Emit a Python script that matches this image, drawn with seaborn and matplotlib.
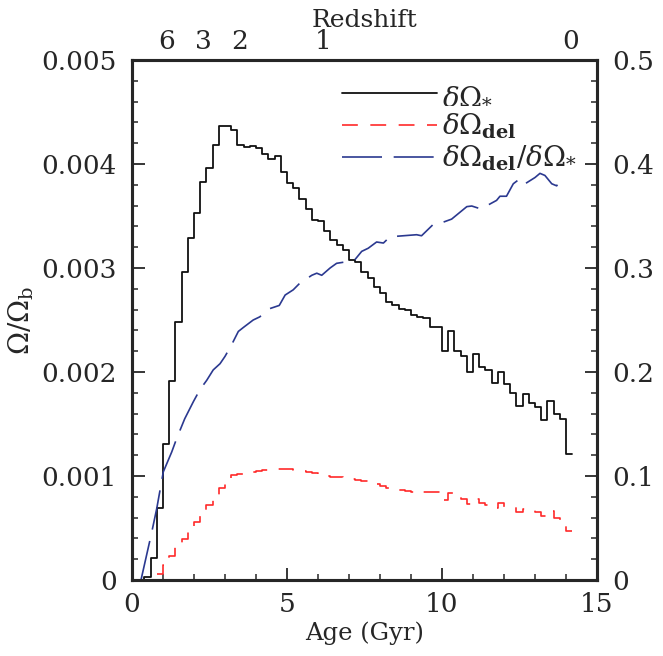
import numpy as np
import pandas as pd
import matplotlib
matplotlib.use("Agg")
import matplotlib.pyplot as plt
from matplotlib.ticker import MultipleLocator, FuncFormatter
import seaborn as sns

# ---- data ----
bin_width = 0.2
star_start = 0.2
star_vals = [0.0, 0.000026, 0.00021, 0.000696, 0.00131, 0.00191, 0.00248, 0.00296, 0.00329,
             0.00353, 0.00383, 0.00396, 0.00418, 0.00437, 0.00437, 0.00433, 0.00418,
             0.00416, 0.00417, 0.00415, 0.00410, 0.00405, 0.00408, 0.00392, 0.00382,
             0.00377, 0.00366, 0.00357, 0.00346, 0.00345, 0.00336, 0.00327, 0.00322,
             0.00317, 0.00308, 0.00306, 0.00296, 0.00290, 0.00282, 0.00276, 0.00267,
             0.00264, 0.00261, 0.00260, 0.00255, 0.00253, 0.00252, 0.00243, 0.00243,
             0.00220, 0.00239, 0.00220, 0.00215, 0.00200, 0.00217, 0.00205, 0.00202,
             0.00189, 0.00200, 0.00188, 0.00180, 0.00167, 0.00179, 0.00170, 0.00166,
             0.00154, 0.00172, 0.00160, 0.00155, 0.00121]

del_start = 0.8
del_vals = [0.00006, 0.000144, 0.000233, 0.00032, 0.000391, 0.000468, 0.000561, 0.000641,
            0.000721, 0.000817, 0.000889, 0.000962, 0.00101, 0.00102, 0.00103, 0.00104,
            0.00105, 0.00106, 0.00107, 0.00107, 0.00107, 0.00107, 0.00106, 0.00105,
            0.00104, 0.00103, 0.00101, 0.00100, 0.000995, 0.00099, 0.00098, 0.00097,
            0.000965, 0.00095, 0.00093, 0.00092, 0.00090, 0.00088, 0.00088, 0.00087,
            0.00086, 0.00085, 0.00084, 0.00085, 0.00085, 0.00085, 0.00077, 0.00084,
            0.00080, 0.00078, 0.00073, 0.00078, 0.00074, 0.00072, 0.00069, 0.00074,
            0.00070, 0.00070, 0.00065, 0.00068, 0.00068, 0.00065, 0.00062, 0.00066,
            0.00060, 0.00058, 0.00047]

ratio_age = [0.29, 0.63, 0.8, 1.01, 1.28, 1.44, 1.7, 1.98, 2.19, 2.41, 2.62, 2.84, 3.0, 3.21,
             3.43, 3.6, 3.91, 4.12, 4.45, 4.75, 4.94, 5.2, 5.4, 5.8, 5.96, 6.12, 6.39,
             6.6, 6.92, 7.19, 7.41, 7.62, 7.89, 8.11, 8.32, 8.75, 9.18, 9.34, 9.72, 9.94,
             10.31, 10.8, 10.96, 11.23, 11.39, 11.76, 11.87, 12.08, 12.3, 12.52, 12.68,
             13.0, 13.16, 13.32, 13.54, 13.7, 13.89]
ratio_vals = [0.0, 0.045, 0.069, 0.104, 0.123, 0.136, 0.155, 0.1715, 0.183, 0.192, 0.202,
              0.208, 0.215, 0.226, 0.239, 0.243, 0.250, 0.253, 0.261, 0.264, 0.274, 0.279,
              0.285, 0.293, 0.295, 0.293, 0.300, 0.3045, 0.306, 0.308, 0.316, 0.319, 0.325,
              0.324, 0.330, 0.331, 0.332, 0.331, 0.342, 0.343, 0.347, 0.359, 0.3596, 0.357,
              0.359, 0.365, 0.369, 0.369, 0.381, 0.386, 0.381, 0.387, 0.391, 0.389, 0.381,
              0.379, 0.389]

z_labels = ["6", "3", "2", "1", "0"]
z_ages = [1.12, 2.30, 3.48, 6.15, 14.15]

# ---- style ----
sns.set_style("ticks")
plt.rcParams["font.family"] = ["DejaVu Serif"]
plt.rcParams["mathtext.fontset"] = "dejavuserif"

TICK_FS = 19
LABEL_FS = 17.5
black = "#111111"
red = "#ff2a2a"
blue = "#2b3990"


def step_frame(start, vals):
    edges = start + bin_width * np.arange(len(vals) + 1)
    y = list(vals) + [vals[-1]]
    return pd.DataFrame({"age": edges, "val": y})


star_df = step_frame(star_start, star_vals)
del_df = step_frame(del_start, del_vals)
ratio_df = pd.DataFrame({"age": ratio_age, "val": ratio_vals})

fig = plt.figure(figsize=(6.63, 6.56), dpi=100)
ax = fig.add_axes([132 / 663, 1 - 580 / 656, 465 / 663, 520 / 656])
ax2 = ax.twinx()

sns.lineplot(data=star_df, x="age", y="val", ax=ax, color=black, lw=1.3,
             drawstyle="steps-post", label=r"$\delta\Omega_{*}$", legend=False)
sns.lineplot(data=del_df, x="age", y="val", ax=ax, color=red, lw=1.2,
             drawstyle="steps-post", linestyle=(0, (9.5, 7.5)),
             label=r"$\delta\Omega_{\mathbf{del}}$", legend=False)
sns.lineplot(data=ratio_df, x="age", y="val", ax=ax2, color=blue, lw=1.2,
             linestyle=(0, (24, 7)),
             label=r"$\delta\Omega_{\mathbf{del}}/\delta\Omega_{*}$", legend=False)

ax.set_xlim(0, 15)
ax.set_ylim(0, 0.005)
ax2.set_ylim(0, 0.5)

fmt_left = FuncFormatter(lambda v, p: "0" if abs(v) < 1e-12 else f"{v:.3f}")
fmt_right = FuncFormatter(lambda v, p: "0" if abs(v) < 1e-12 else f"{v:.1f}")
fmt_x = FuncFormatter(lambda v, p: f"{v:.0f}")

ax.xaxis.set_major_locator(MultipleLocator(5))
ax.xaxis.set_minor_locator(MultipleLocator(1))
ax.xaxis.set_major_formatter(fmt_x)
ax.yaxis.set_major_locator(MultipleLocator(0.001))
ax.yaxis.set_minor_locator(MultipleLocator(0.0002))
ax.yaxis.set_major_formatter(fmt_left)
ax2.yaxis.set_major_locator(MultipleLocator(0.1))
ax2.yaxis.set_minor_locator(MultipleLocator(0.02))
ax2.yaxis.set_major_formatter(fmt_right)

for a in (ax, ax2):
    a.tick_params(which="major", direction="in", length=9, width=1.3,
                  labelsize=TICK_FS, pad=11)
    a.tick_params(which="minor", direction="in", length=4.5, width=1.1)
    for s in a.spines.values():
        s.set_linewidth(2.2)
        s.set_visible(True)
ax.tick_params(axis="y", right=False, which="both")
ax.tick_params(axis="x", top=False, which="both")
ax.tick_params(axis="x", pad=9)
ax2.tick_params(axis="y", left=False, which="both")

ax.set_xlabel("Age (Gyr)", fontsize=LABEL_FS, labelpad=3)
ax.set_ylabel(r"$\Omega/\Omega_{\rm b}$", fontsize=20, labelpad=4)
ax2.set_ylabel("")

top = ax.secondary_xaxis("top")
top.set_xticks(z_ages)
top.set_xticklabels(z_labels)
top.tick_params(length=0, labelsize=TICK_FS, pad=4)
top.set_xlabel("Redshift", fontsize=18, labelpad=2)

h1, l1 = ax.get_legend_handles_labels()
h2, l2 = ax2.get_legend_handles_labels()
ax2.legend(h1 + h2, l1 + l2, loc="upper left", bbox_to_anchor=(0.452, 0.958),
           frameon=False, fontsize=20, handlelength=3.4, handletextpad=0.2,
           labelspacing=0.1, borderpad=0, borderaxespad=0)

fig.savefig("out.png", dpi=100)
